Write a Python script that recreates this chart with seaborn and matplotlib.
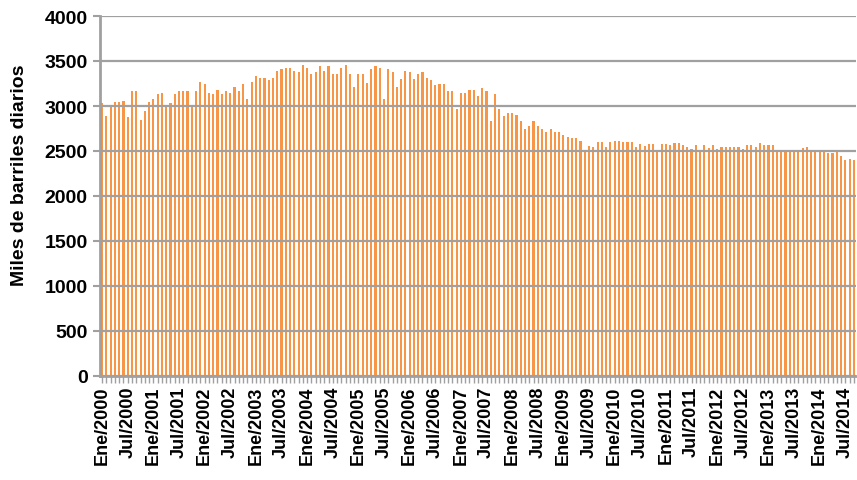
import pandas as pd
import seaborn as sns
import matplotlib
matplotlib.use("Agg")
import matplotlib.pyplot as plt

## monthly data, Ene/2000 .. Sep/2014 (thousand barrels per day)
years = list(range(2000, 2015))
month_names = ["Ene", "Feb", "Mar", "Abr", "May", "Jun",
               "Jul", "Ago", "Sep", "Oct", "Nov", "Dic"]

values_2000_2003 = [3030, 2890, 2990, 3040, 3040, 3055, 2875, 3165, 3165, 2850, 2950, 3040,
                    3075, 3130, 3150, 3010, 3030, 3130, 3170, 3170, 3170, 2990, 3165, 3265,
                    3250, 3150, 3130, 3175, 3130, 3165, 3150, 3210, 3165, 3250, 3075, 3265,
                    3335, 3315, 3315, 3290, 3315, 3390, 3410, 3425, 3425]
values_2003_2007 = [3390, 3375, 3455, 3425, 3355, 3375, 3440, 3390, 3440, 3355, 3355, 3425,
                    3455, 3355, 3215, 3355, 3355, 3255, 3410, 3440, 3425, 3075, 3410, 3375,
                    3215, 3305, 3390, 3375, 3305, 3355, 3375, 3315, 3290, 3235, 3250, 3250,
                    3170, 3170, 2970, 3150, 3150, 3175, 3175, 3110]
values_2007_2011 = [3195, 3165, 2835, 3135, 2970, 2890, 2920, 2920, 2900, 2835, 2750, 2780,
                    2835, 2780, 2750, 2715, 2750, 2715, 2715, 2680, 2660, 2640, 2640, 2615,
                    2510, 2560, 2540, 2595, 2595, 2540, 2595, 2615, 2615, 2595, 2595, 2595,
                    2540, 2580, 2560, 2580, 2580, 2505, 2580, 2580]
values_2011_2014 = [2565, 2585, 2585, 2565, 2540, 2520, 2565, 2495, 2565, 2530, 2565, 2520,
                    2540, 2540, 2540, 2540, 2540, 2520, 2565, 2565, 2540, 2585, 2565, 2565,
                    2565, 2505, 2505, 2505, 2505, 2485, 2505, 2530, 2540, 2505, 2505, 2505,
                    2505, 2480, 2480, 2485, 2445, 2395, 2410, 2395]

production = values_2000_2003 + values_2003_2007 + values_2007_2011 + values_2011_2014
months = [f"{m}/{y}" for y in years for m in month_names][:len(production)]

df = pd.DataFrame({"mes": months, "valor": production})

sns.set_style("white")
plt.rcParams["font.family"] = ["Liberation Sans", "DejaVu Sans"]
plt.rcParams["text.color"] = "black"
plt.rcParams["xtick.labelcolor"] = "black"
plt.rcParams["ytick.labelcolor"] = "black"

fig = plt.figure(figsize=(8.57, 4.81), dpi=100)
ax = fig.add_axes([100 / 857, 1 - 377 / 481, 756 / 857, 360 / 481])

sns.barplot(data=df, x="mes", y="valor", color="#F79646", saturation=1,
            width=0.5, edgecolor="none", linewidth=0, ax=ax)

ax.set_ylim(0, 4000)
ax.set_yticks(range(0, 4001, 500))
ax.set_xlim(-0.5, len(production) - 0.5)

## label only Ene and Jul, keep a tick mark for every month
ax.set_xticks(range(len(months)))
ax.set_xticklabels([m if m.startswith(("Ene", "Jul")) else "" for m in months],
                   rotation=90, fontsize=13, fontweight="bold")
for lab in ax.get_yticklabels():
    lab.set_fontweight("bold")
ax.tick_params(axis="y", labelsize=14, length=5, width=1.5, color="#A0A0A0",
               direction="out", left=True, pad=4)
ax.tick_params(axis="x", length=5, width=1, color="#A0A0A0", direction="out",
               bottom=True, pad=2)

## gridlines are drawn over the bars in the original
ax.yaxis.grid(True, color="#A0A0A0", linewidth=1.6)
ax.set_axisbelow(False)
for side in ["top", "right"]:
    ax.spines[side].set_visible(False)
ax.spines["left"].set_color("#A0A0A0")
ax.spines["left"].set_linewidth(2)
ax.spines["bottom"].set_color("#A0A0A0")
ax.spines["bottom"].set_linewidth(2)

ax.set_xlabel("")
ax.set_ylabel("Miles de barriles diarios", fontsize=14, fontweight="bold", color="black")
ax.yaxis.set_label_coords(-0.095, 0.56)

fig.savefig("out.png", dpi=100)
